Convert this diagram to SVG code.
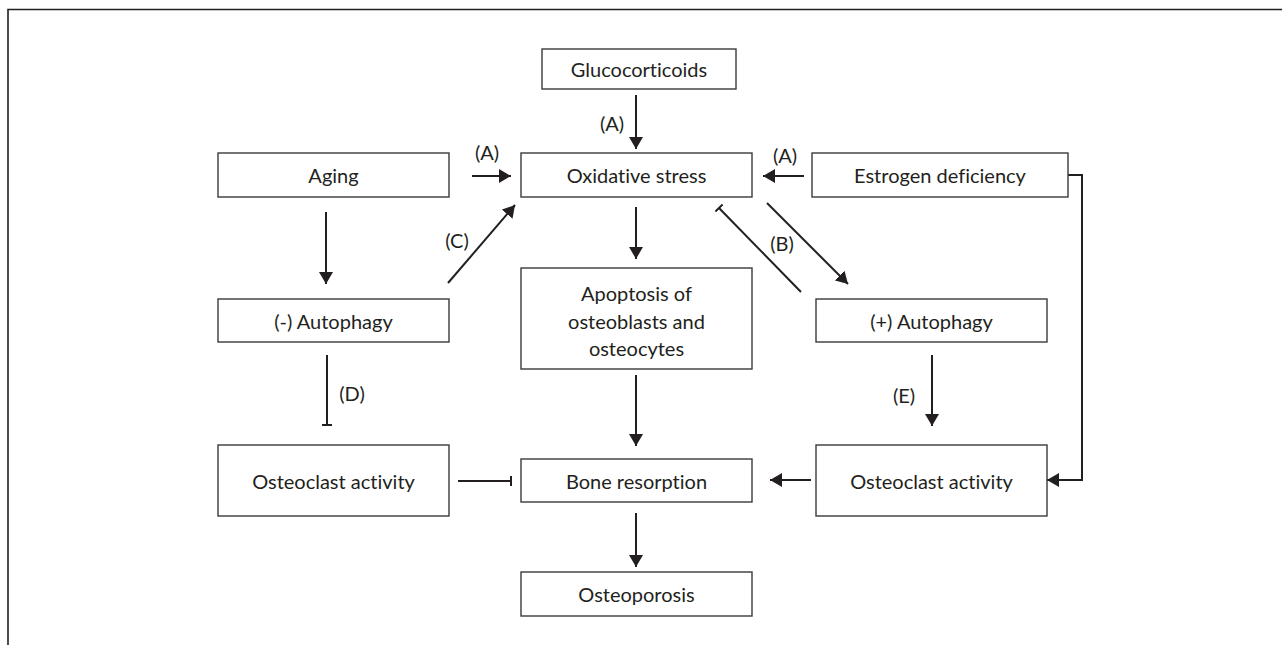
<svg xmlns="http://www.w3.org/2000/svg" width="1282" height="645" viewBox="0 0 1282 645">
<defs>
<style>
.box{fill:#fff;stroke:#3a3a3a;stroke-width:1.4}
.t{font-family:Lato,"Open Sans","Liberation Sans",sans-serif;font-size:20px;fill:#231f20;text-anchor:middle;dominant-baseline:central;font-variant-ligatures:none;font-feature-settings:"liga" 0}
.c{fill:none;stroke:#231f20;stroke-width:2}
.frame{fill:none;stroke:#231f20;stroke-width:1.6}
</style>
<marker id="arr" markerUnits="userSpaceOnUse" markerWidth="13" markerHeight="15" refX="12" refY="7.5" orient="auto">
<path d="M0,0.5 L12,7.5 L0,14.5 z" fill="#231f20"/>
</marker>
<marker id="bar" markerUnits="userSpaceOnUse" markerWidth="4" markerHeight="12" refX="1" refY="6" orient="auto">
<path d="M1,1 L1,11" stroke="#231f20" stroke-width="2" fill="none"/>
</marker>
</defs>
<rect width="1282" height="645" fill="#fff"/>
<path class="frame" d="M8,645 L8,9.5 L1282,9.5"/>

<g id="connectors">
<line class="c" x1="636" y1="95" x2="636" y2="149" marker-end="url(#arr)"/>
<line class="c" x1="472" y1="176" x2="511" y2="176" marker-end="url(#arr)"/>
<line class="c" x1="804" y1="176" x2="763" y2="176" marker-end="url(#arr)"/>
<polyline class="c" points="1068,175 1082,175 1082,480 1047,480" marker-end="url(#arr)"/>
<line class="c" x1="326" y1="212" x2="326" y2="284" marker-end="url(#arr)"/>
<line class="c" x1="448" y1="283" x2="515" y2="205" marker-end="url(#arr)"/>
<line class="c" x1="636" y1="207" x2="636" y2="259" marker-end="url(#arr)"/>
<line class="c" x1="767" y1="203" x2="848" y2="284" marker-end="url(#arr)"/>
<line class="c" x1="801" y1="292" x2="719" y2="208" marker-end="url(#bar)"/>
<line class="c" x1="327" y1="355" x2="327" y2="425" marker-end="url(#bar)"/>
<line class="c" x1="932" y1="355" x2="932" y2="426" marker-end="url(#arr)"/>
<line class="c" x1="636" y1="375" x2="636" y2="446" marker-end="url(#arr)"/>
<line class="c" x1="636" y1="513" x2="636" y2="567" marker-end="url(#arr)"/>
<line class="c" x1="458" y1="481" x2="511" y2="481" marker-end="url(#bar)"/>
<line class="c" x1="811" y1="480" x2="770" y2="480" marker-end="url(#arr)"/>
<text class="t" x="612" y="123">(A)</text>
<text class="t" x="487" y="152">(A)</text>
<text class="t" x="785" y="155">(A)</text>
<text class="t" x="457" y="240">(C)</text>
<text class="t" x="782" y="243">(B)</text>
<text class="t" x="352" y="393">(D)</text>
<text class="t" x="904" y="395">(E)</text>
</g>

<g id="glucocorticoids"><rect class="box" x="542" y="49" width="194" height="40"/><text class="t" x="639" y="69">Glucocorticoids</text></g>
<g id="oxidative"><rect class="box" x="521" y="153" width="231" height="44"/><text class="t" x="636.5" y="175">Oxidative stress</text></g>
<g id="aging"><rect class="box" x="218" y="153" width="231" height="44"/><text class="t" x="333.5" y="175">Aging</text></g>
<g id="estrogen"><rect class="box" x="812" y="153" width="256" height="44"/><text class="t" x="940" y="175">Estrogen deficiency</text></g>
<g id="neg-autophagy"><rect class="box" x="218" y="299" width="231" height="43"/><text class="t" x="333.5" y="320.5">(-) Autophagy</text></g>
<g id="apoptosis"><rect class="box" x="521" y="268" width="231" height="101"/><text class="t" x="636.5" y="293">Apoptosis of</text><text class="t" x="636.5" y="320.5">osteoblasts and</text><text class="t" x="636.5" y="348">osteocytes</text></g>
<g id="pos-autophagy"><rect class="box" x="816" y="299" width="231" height="43"/><text class="t" x="931.5" y="320.5">(+) Autophagy</text></g>
<g id="osteoclast-left"><rect class="box" x="218" y="445" width="231" height="71"/><text class="t" x="333.5" y="480.5">Osteoclast activity</text></g>
<g id="bone-resorption"><rect class="box" x="521" y="459" width="231" height="43"/><text class="t" x="636.5" y="480.5">Bone resorption</text></g>
<g id="osteoclast-right"><rect class="box" x="816" y="445" width="231" height="71"/><text class="t" x="931.5" y="480.5">Osteoclast activity</text></g>
<g id="osteoporosis"><rect class="box" x="521" y="572" width="231" height="44"/><text class="t" x="636.5" y="594">Osteoporosis</text></g>
</svg>
